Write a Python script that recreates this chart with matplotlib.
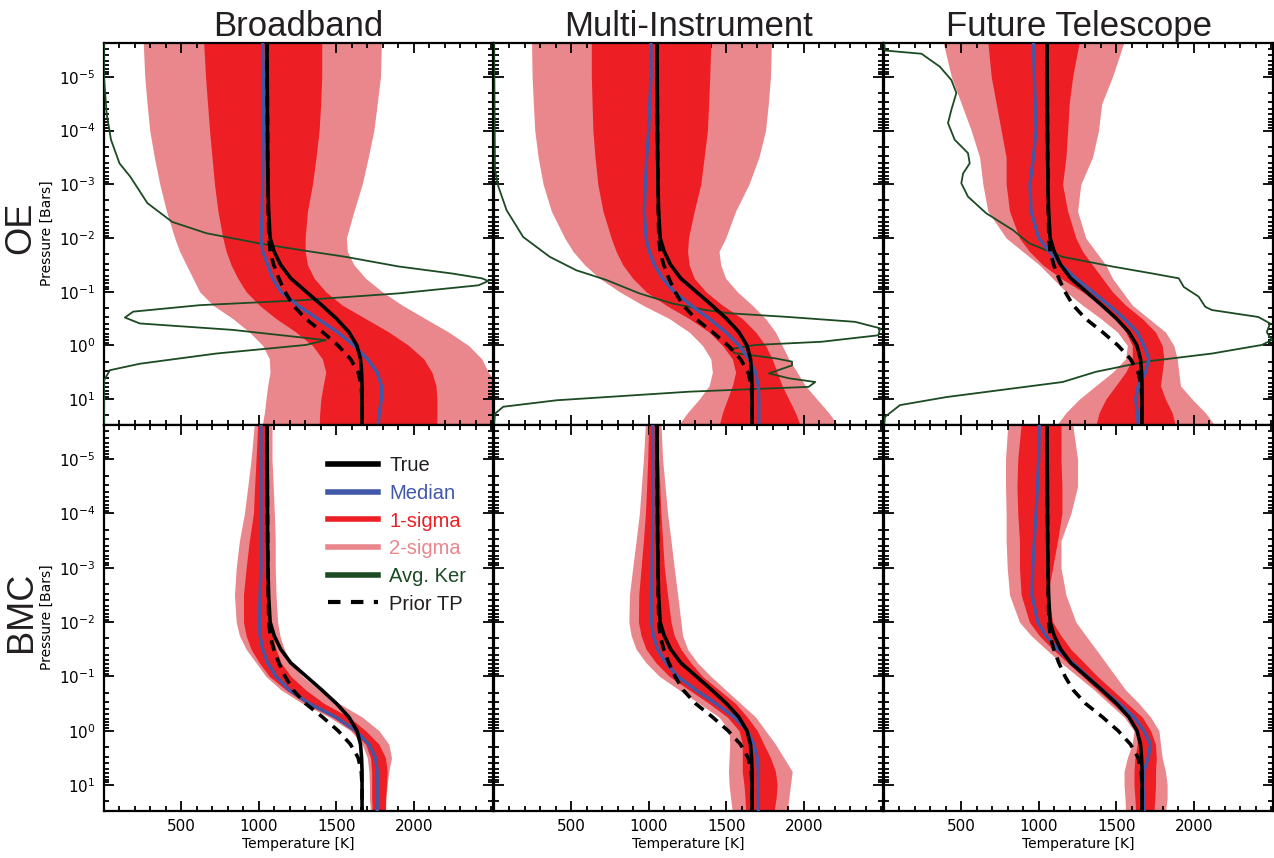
import numpy as np
import matplotlib
matplotlib.use("Agg")
import matplotlib.pyplot as plt
from matplotlib.lines import Line2D
from matplotlib.ticker import FixedLocator, MultipleLocator, NullFormatter, LogFormatterSciNotation

# ---------------- data ----------------
log_pressure = [-5.65, -5.0, -4.5, -4.0, -3.5, -3.0, -2.5, -2.0, -1.75, -1.5, -1.25,
                -1.0, -0.75, -0.5, -0.25, 0.0, 0.25, 0.5, 0.75, 1.0, 1.25, 1.5]

true_T = [1052, 1053, 1054, 1055, 1056, 1058, 1062, 1072, 1098, 1140, 1205,
          1305, 1405, 1500, 1580, 1632, 1655, 1662, 1665, 1665, 1665, 1665]
prior_T = [1052, 1053, 1054, 1055, 1056, 1058, 1060, 1064, 1072, 1095, 1128,
           1168, 1220, 1300, 1410, 1510, 1590, 1640, 1660, 1665, 1665, 1665]

# OE - Broadband
oe_broad_median = [1024, 1028, 1028, 1028, 1026, 1024, 1020, 1013, 1024, 1056, 1088,
                   1142, 1249, 1377, 1506, 1613, 1699, 1763, 1790, 1790, 1776, 1769]
oe_broad_s1_lo = [643, 655, 668, 681, 697, 713, 735, 767, 788, 820, 863,
                  917, 1002, 1110, 1238, 1345, 1409, 1431, 1414, 1399, 1392, 1388]
oe_broad_s1_hi = [1405, 1405, 1398, 1388, 1368, 1345, 1313, 1298, 1298, 1313, 1356,
                  1431, 1538, 1688, 1838, 1966, 2063, 2116, 2142, 2148, 2148, 2148]
oe_broad_s2_lo = [253, 263, 278, 295, 325, 360, 403, 456, 488, 531, 574,
                  617, 703, 831, 938, 1024, 1067, 1071, 1056, 1045, 1035, 1020]
oe_broad_s2_hi = [1790, 1784, 1763, 1741, 1705, 1666, 1613, 1564, 1570, 1613, 1688,
                  1795, 1924, 2073, 2223, 2352, 2438, 2480, 2550, 2550, 2550, 2550]

# OE - Multi-Instrument
oe_multi_median = [1013, 1013, 1005, 998, 985, 977, 970, 981, 1002, 1035, 1088,
                   1163, 1270, 1388, 1495, 1581, 1645, 1688, 1705, 1709, 1709, 1709]
oe_multi_s1_lo = [628, 628, 633, 638, 652, 670, 703, 756, 788, 831, 895,
                  981, 1110, 1259, 1388, 1474, 1538, 1559, 1538, 1506, 1474, 1452]
oe_multi_s1_hi = [1399, 1392, 1385, 1377, 1356, 1334, 1292, 1255, 1249, 1259, 1292,
                  1367, 1474, 1602, 1688, 1752, 1795, 1827, 1859, 1902, 1945, 1977]
oe_multi_s2_lo = [242, 246, 254, 263, 285, 317, 370, 456, 510, 585, 681,
                  810, 960, 1131, 1259, 1345, 1399, 1409, 1388, 1324, 1249, 1185]
oe_multi_s2_hi = [1790, 1784, 1770, 1752, 1709, 1645, 1559, 1495, 1452, 1463, 1495,
                  1570, 1666, 1752, 1816, 1859, 1902, 1956, 2009, 2084, 2159, 2223]

# OE - Future Telescope
oe_future_median = [964, 970, 976, 981, 964, 942, 949, 998, 1067, 1142, 1238,
                    1345, 1452, 1549, 1634, 1677, 1709, 1688, 1641, 1624, 1634, 1641]
oe_future_s1_lo = [670, 692, 724, 756, 788, 788, 810, 874, 938, 1024, 1142,
                   1281, 1399, 1495, 1559, 1602, 1602, 1559, 1495, 1431, 1388, 1366]
oe_future_s1_hi = [1260, 1217, 1195, 1185, 1174, 1152, 1185, 1238, 1281, 1345, 1409,
                   1474, 1559, 1666, 1752, 1795, 1806, 1795, 1784, 1816, 1859, 1881]
oe_future_s2_lo = [381, 435, 499, 563, 617, 638, 670, 788, 895, 1002, 1088,
                   1174, 1281, 1399, 1506, 1570, 1559, 1474, 1366, 1260, 1174, 1110]
oe_future_s2_hi = [1549, 1474, 1405, 1384, 1345, 1270, 1249, 1302, 1366, 1431, 1474,
                   1538, 1602, 1709, 1816, 1870, 1892, 1902, 1913, 1988, 2073, 2138]

# BMC - Broadband
bmc_broad_median = [1013, 1013, 1013, 1013, 1013, 1013, 1007, 1002, 1007, 1024, 1056,
                    1110, 1195, 1324, 1495, 1624, 1709, 1752, 1763, 1763, 1763, 1763]
bmc_broad_s1_lo = [992, 981, 972, 964, 938, 917, 900, 900, 917, 949, 1002,
                   1067, 1174, 1302, 1474, 1602, 1688, 1720, 1727, 1727, 1727, 1731]
bmc_broad_s1_hi = [1056, 1056, 1056, 1056, 1056, 1056, 1062, 1077, 1088, 1110, 1142,
                   1206, 1302, 1420, 1581, 1688, 1774, 1816, 1827, 1823, 1816, 1816]
bmc_broad_s2_lo = [970, 949, 928, 906, 874, 853, 842, 853, 874, 917, 981,
                   1045, 1142, 1281, 1452, 1591, 1666, 1699, 1709, 1713, 1713, 1720]
bmc_broad_s2_hi = [1084, 1084, 1092, 1099, 1105, 1105, 1110, 1120, 1135, 1163, 1206,
                   1281, 1388, 1517, 1666, 1774, 1838, 1855, 1838, 1827, 1820, 1816]

# BMC - Multi-Instrument
bmc_multi_median = [1024, 1024, 1024, 1024, 1022, 1020, 1017, 1017, 1028, 1056, 1110,
                    1185, 1302, 1431, 1549, 1634, 1677, 1699, 1705, 1705, 1705, 1705]
bmc_multi_s1_lo = [998, 992, 985, 977, 964, 949, 934, 932, 949, 981, 1045,
                   1131, 1259, 1388, 1506, 1581, 1602, 1602, 1602, 1613, 1620, 1624]
bmc_multi_s1_hi = [1056, 1062, 1070, 1077, 1088, 1099, 1120, 1142, 1163, 1206, 1270,
                   1345, 1452, 1559, 1634, 1699, 1741, 1784, 1816, 1827, 1820, 1806]
bmc_multi_s2_lo = [977, 964, 951, 938, 917, 895, 874, 870, 885, 917, 981,
                   1067, 1195, 1324, 1452, 1517, 1521, 1517, 1513, 1517, 1527, 1538]
bmc_multi_s2_hi = [1077, 1088, 1104, 1120, 1142, 1163, 1185, 1206, 1217, 1249, 1313,
                   1399, 1495, 1592, 1688, 1752, 1816, 1870, 1924, 1913, 1902, 1892]

# BMC - Future Telescope
bmc_future_median = [1002, 998, 990, 981, 970, 960, 955, 992, 1045, 1120, 1217,
                     1313, 1409, 1517, 1613, 1677, 1720, 1705, 1677, 1671, 1677, 1677]
bmc_future_s1_lo = [885, 863, 858, 863, 874, 874, 885, 938, 1002, 1088, 1185,
                    1281, 1377, 1474, 1570, 1634, 1634, 1619, 1613, 1613, 1619, 1624]
bmc_future_s1_hi = [1142, 1142, 1148, 1148, 1120, 1088, 1056, 1088, 1142, 1206, 1292,
                    1377, 1474, 1570, 1666, 1720, 1752, 1757, 1752, 1752, 1748, 1741]
bmc_future_s2_lo = [799, 784, 784, 788, 788, 795, 810, 874, 949, 1045, 1142,
                    1249, 1356, 1452, 1549, 1613, 1602, 1570, 1549, 1549, 1555, 1559]
bmc_future_s2_hi = [1217, 1249, 1249, 1206, 1142, 1142, 1174, 1238, 1302, 1367, 1431,
                    1495, 1559, 1645, 1720, 1774, 1784, 1795, 1816, 1827, 1827, 1816]

# Averaging kernels (OE row), plotted on the temperature axis
kernel_broad_logp = [-5.65, -5.0, -4.32, -3.83, -3.39, -3.14, -2.65, -2.30, -2.09, -1.90,
                     -1.78, -1.65, -1.47, -1.34, -1.25, -1.20, -1.12, -0.97, -0.84, -0.75,
                     -0.63, -0.52, -0.41, -0.29, -0.10, -0.01, 0.15, 0.34, 0.46, 0.65, 1.5]
kernel_broad_T = [0, 0, 17, 45, 100, 170, 280, 440, 660, 1002,
                  1260, 1559, 1902, 2245, 2438, 2480, 2416, 1902, 1260, 617,
                  188, 135, 231, 831, 1431, 1302, 724, 231, 38, 0, 0]

kernel_multi_logp = [-5.65, -3.27, -2.96, -2.52, -2.02, -1.65, -1.40, -1.22, -0.97, -0.78,
                     -0.66, -0.60, -0.53, -0.44, -0.32, -0.19, -0.07, -0.01, 0.06, 0.14,
                     0.24, 0.30, 0.37, 0.52, 0.61, 0.68, 0.77, 0.86, 1.02, 1.14, 1.27, 1.5]
kernel_multi_T = [0, 6, 28, 81, 188, 360, 531, 724, 938, 1152,
                  1366, 1516, 1902, 2330, 2491, 2480, 2116, 1688, 1538, 1549,
                  1816, 1923, 1923, 1774, 1902, 2073, 2030, 1260, 403, 60, 6, 0]

kernel_future_logp = [-5.65, -5.49, -5.43, -5.19, -4.94, -4.70, -4.39, -4.14, -3.83, -3.58,
                      -3.39, -3.20, -3.02, -2.77, -2.46, -2.15, -1.90, -1.65, -1.47, -1.34,
                      -1.25, -1.09, -0.91, -0.72, -0.66, -0.53, -0.41, -0.25, -0.10, -0.01,
                      0.15, 0.30, 0.49, 0.68, 0.80, 0.96, 1.11, 1.33, 1.5]
kernel_future_T = [0, 6, 242, 360, 435, 467, 435, 413, 456, 542,
                   553, 510, 499, 542, 660, 831, 938, 1152, 1474, 1731,
                   1902, 1934, 2030, 2073, 2116, 2416, 2491, 2470, 2502, 2438,
                   2116, 1688, 1367, 1152, 831, 403, 103, 6, 0]

column_titles = ["Broadband", "Multi-Instrument", "Future Telescope"]
row_labels = ["OE", "BMC"]
x_tick_values = [500, 1000, 1500, 2000]
y_tick_values = [1e-5, 1e-4, 1e-3, 1e-2, 1e-1, 1e0, 1e1]

# ---------------- styling ----------------
C_2SIG = "#E9878C"
C_1SIG = "#ED1F25"
C_MED = "#4158A8"
C_KER = "#1C4A22"
C_TRUE = "#000000"
C_TEXT = "#231F20"

panels = [
    [(oe_broad_median, oe_broad_s1_lo, oe_broad_s1_hi, oe_broad_s2_lo, oe_broad_s2_hi),
     (oe_multi_median, oe_multi_s1_lo, oe_multi_s1_hi, oe_multi_s2_lo, oe_multi_s2_hi),
     (oe_future_median, oe_future_s1_lo, oe_future_s1_hi, oe_future_s2_lo, oe_future_s2_hi)],
    [(bmc_broad_median, bmc_broad_s1_lo, bmc_broad_s1_hi, bmc_broad_s2_lo, bmc_broad_s2_hi),
     (bmc_multi_median, bmc_multi_s1_lo, bmc_multi_s1_hi, bmc_multi_s2_lo, bmc_multi_s2_hi),
     (bmc_future_median, bmc_future_s1_lo, bmc_future_s1_hi, bmc_future_s2_lo, bmc_future_s2_hi)],
]
kernels = [(kernel_broad_logp, kernel_broad_T),
           (kernel_multi_logp, kernel_multi_T),
           (kernel_future_logp, kernel_future_T)]

W, H = 1274, 858
fig = plt.figure(figsize=(W / 100, H / 100), dpi=100)

col_left_px = [104, 494, 884]
col_w_px = 389
row_px = [(43, 425), (425, 811)]

P = 10.0 ** np.array(log_pressure)
title_font = ["Liberation Sans", "DejaVu Sans"]
ymin, ymax = 10 ** 1.48, 10 ** -5.63
minor_y = [m * 10.0 ** e for e in range(-6, 2) for m in range(2, 10)
           if ymax < m * 10.0 ** e < ymin]

axes = [[None] * 3 for _ in range(2)]
for r in range(2):
    for c in range(3):
        top, bot = row_px[r]
        ax = fig.add_axes([col_left_px[c] / W, 1 - bot / H, col_w_px / W, (bot - top) / H])
        axes[r][c] = ax
        med, s1lo, s1hi, s2lo, s2hi = panels[r][c]
        ax.fill_betweenx(P, s2lo, s2hi, color=C_2SIG, lw=0, zorder=1)
        ax.fill_betweenx(P, s1lo, s1hi, color=C_1SIG, lw=0, zorder=2)
        if r == 0:
            klp, kT = kernels[c]
            ax.plot(kT, 10.0 ** np.array(klp), color=C_KER, lw=1.3, zorder=3)
        ax.plot(med, P, color=C_MED, lw=2.4, zorder=4)
        ax.plot(prior_T, P, color="black", lw=2.6, ls=(0, (3.0, 2.0)), zorder=5)
        ax.plot(true_T, P, color=C_TRUE, lw=2.6, zorder=6)

        ax.set_yscale("log")
        ax.set_ylim(ymin, ymax)
        ax.set_xlim(0, 2510)
        ax.xaxis.set_major_locator(FixedLocator(x_tick_values))
        ax.xaxis.set_minor_locator(MultipleLocator(100))
        ax.yaxis.set_major_locator(FixedLocator(y_tick_values))
        ax.yaxis.set_major_formatter(LogFormatterSciNotation())
        ax.yaxis.set_minor_locator(FixedLocator(minor_y))
        ax.yaxis.set_minor_formatter(NullFormatter())
        ax.tick_params(which="both", direction="in", top=True, right=True, width=1.3)
        ax.tick_params(which="major", length=7)
        ax.tick_params(which="minor", length=3.5)
        ax.tick_params(axis="both", labelsize=11, pad=6)
        for s in ax.spines.values():
            s.set_linewidth(1.6)
        if c != 0:
            ax.tick_params(labelleft=False)
        if r == 0:
            ax.tick_params(labelbottom=False)
            ax.set_title(column_titles[c], fontsize=25, family=title_font, pad=5, color=C_TEXT)
        else:
            ax.set_xlabel("Temperature [K]", fontsize=10, labelpad=2)

# row labels
for r, lab in enumerate(row_labels):
    top, bot = row_px[r]
    yc = 1 - ((top + bot) / 2 - 6) / H
    fig.text(21 / W, yc, lab, rotation=90, fontsize=26, family=title_font,
             ha="center", va="center", color=C_TEXT)
    fig.text(47 / W, yc - 0.006, "Pressure [Bars]", rotation=90, fontsize=10,
             ha="center", va="center")

# legend in lower-left panel
handles = [
    Line2D([], [], color=C_TRUE, lw=4),
    Line2D([], [], color=C_MED, lw=4),
    Line2D([], [], color=C_1SIG, lw=4),
    Line2D([], [], color=C_2SIG, lw=4),
    Line2D([], [], color=C_KER, lw=4),
    Line2D([], [], color="black", lw=3, ls=(0, (3, 2.5))),
]
labels = ["True", "Median", "1-sigma", "2-sigma", "Avg. Ker", "Prior TP"]
leg = axes[1][0].legend(handles, labels, loc="upper left", bbox_to_anchor=(0.555, 0.94),
                        frameon=False, prop={"family": title_font, "size": 14.5},
                        handlelength=2.5, handletextpad=0.55,
                        labelspacing=0.43, borderaxespad=0)
for t, col in zip(leg.get_texts(), [C_TEXT, C_MED, C_1SIG, C_2SIG, C_KER, C_TEXT]):
    t.set_color(col)

fig.savefig("out.png", dpi=100)
